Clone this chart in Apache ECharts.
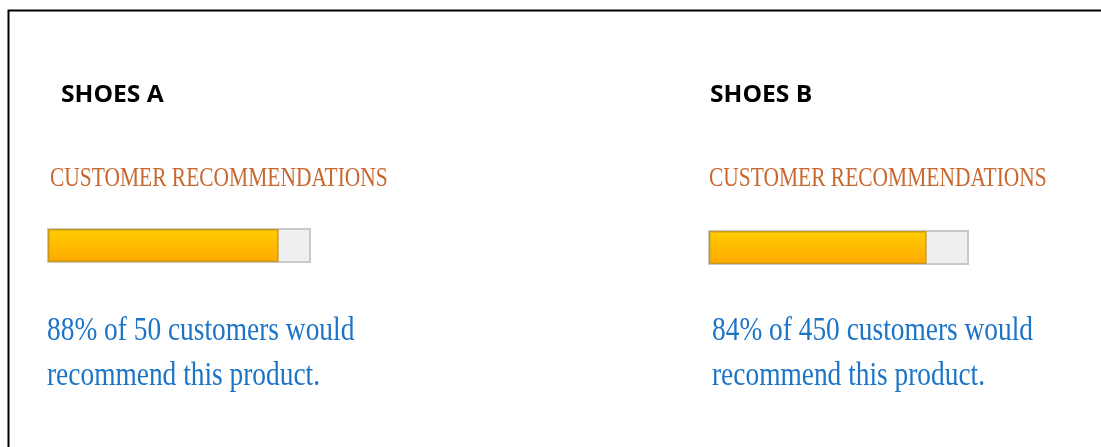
<!DOCTYPE html>
<html>
<head>
<meta charset="utf-8">
<script src="https://cdn.jsdelivr.net/npm/echarts@6/dist/echarts.min.js"></script>
<style>
html,body{margin:0;padding:0;background:#fff;}
#c{width:1101px;height:447px;}
</style>
</head>
<body>
<div id="c"></div>
<script>
const products = ['SHOES A', 'SHOES B'];
const percentages = [88, 84];
const customers = [50, 450];
const heading = 'CUSTOMER RECOMMENDATIONS';

const chart = echarts.init(document.getElementById('c'), null, {renderer: 'canvas'});

const panels = [
  {titleX: 61, headX: 50, textX: 47, grid: {left: 48, top: 229, width: 262, height: 33}},
  {titleX: 710, headX: 709, textX: 712, grid: {left: 709, top: 231, width: 259, height: 33}}
];

const graphics = [
  {type: 'polyline', shape: {points: [[8.5, 447], [8.5, 10.5], [1101, 10.5]]},
   style: {stroke: '#000', lineWidth: 2, fill: null}, silent: true}
];

function txt(x, y, text, font, fill, sx) {
  return {type: 'text', x: x, y: y, scaleX: sx, silent: true,
    style: {text: text, font: font, fill: fill, textAlign: 'left', textVerticalAlign: 'middle', align: 'left', verticalAlign: 'middle'}};
}

products.forEach((p, i) => {
  const pn = panels[i];
  graphics.push(txt(pn.titleX, 95, p, 'bold 23px "Open Sans"', '#000', 1.07));
  graphics.push(txt(pn.headX, 179, heading, '27px "Liberation Serif"', '#c8672e', 0.795));
  graphics.push(txt(pn.textX, 331, percentages[i] + '% of ' + customers[i] + ' customers would', '33px "Liberation Serif"', '#1c74c7', 0.83));
  graphics.push(txt(pn.textX, 376, 'recommend this product.', '33px "Liberation Serif"', '#1c74c7', 0.83));
});

const option = {
  animation: false,
  backgroundColor: '#fff',
  grid: panels.map(pn => Object.assign({containLabel: false}, pn.grid)),
  xAxis: panels.map((pn, i) => ({type: 'value', gridIndex: i, min: 0, max: 100, show: false})),
  yAxis: panels.map((pn, i) => ({type: 'category', gridIndex: i, data: [products[i]], show: false})),
  series: products.map((p, i) => ({
    type: 'bar', xAxisIndex: i, yAxisIndex: i, barWidth: '100%',
    data: [percentages[i]],
    showBackground: true,
    backgroundStyle: {color: '#efefef', borderColor: '#c9c9c9', borderWidth: 2},
    itemStyle: {
      color: new echarts.graphic.LinearGradient(0, 0, 0, 1, [
        {offset: 0, color: '#ffcd00'},
        {offset: 1, color: '#ffa900'}
      ]),
      borderColor: '#c99a1e', borderWidth: 1.5
    }
  })),
  graphic: graphics
};
chart.setOption(option);
</script>
</body>
</html>
